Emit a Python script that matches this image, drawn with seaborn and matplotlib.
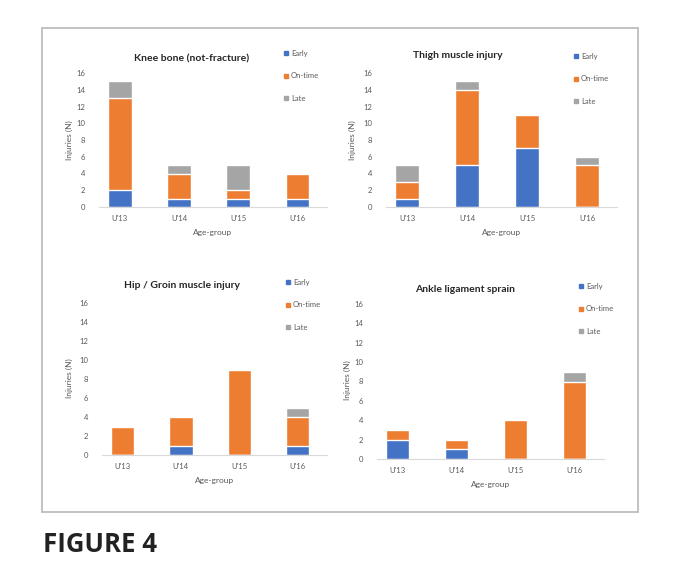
import numpy as np
import pandas as pd
import matplotlib
matplotlib.use('Agg')
import matplotlib.pyplot as plt
from matplotlib.patches import Rectangle
from matplotlib.lines import Line2D
import seaborn as sns

groups = ["U'13", "U'14", "U'15", "U'16"]
timing = ['Early', 'On-time', 'Late']

titles = ['Knee bone (not-fracture)', 'Thigh muscle injury',
          'Hip / Groin muscle injury', 'Ankle ligament sprain']

knee_early = [2, 1, 1, 1]
knee_ontime = [11, 3, 1, 3]
knee_late = [2, 1, 3, 0]

thigh_early = [1, 5, 7, 0]
thigh_ontime = [2, 9, 4, 5]
thigh_late = [2, 1, 0, 1]

hip_early = [0, 1, 0, 1]
hip_ontime = [3, 3, 9, 3]
hip_late = [0, 0, 0, 1]

ankle_early = [2, 1, 0, 0]
ankle_ontime = [1, 1, 4, 8]
ankle_late = [0, 0, 0, 1]

yticks = [0, 2, 4, 6, 8, 10, 12, 14, 16]

colors = {'Early': '#4472C4', 'On-time': '#ED7D31', 'Late': '#A5A5A5'}

W, H = 680, 572
sns.set_style('white')
plt.rcParams['font.family'] = ['Lato', 'DejaVu Sans']

fig = plt.figure(figsize=(W / 100, H / 100), dpi=100)

# panel layout in pixels: left, right, y of 0, y of 16
panels = [
    dict(l=99, r=327, y0=207, y16=73, title=(192, 59), ylab=(69, 140), leg=(284, 50)),
    dict(l=386, r=617, y0=207, y16=73, title=(458, 56), ylab=(352, 140), leg=(574, 53)),
    dict(l=102, r=327, y0=455, y16=303, title=(182, 285), ylab=(69, 378), leg=(286, 279)),
    dict(l=377, r=604, y0=459, y16=304, title=(465, 289), ylab=(347, 380), leg=(579, 283)),
]

data = [
    (knee_early, knee_ontime, knee_late),
    (thigh_early, thigh_ontime, thigh_late),
    (hip_early, hip_ontime, hip_late),
    (ankle_early, ankle_ontime, ankle_late),
]

for p, (early, ontime, late), title in zip(panels, data, titles):
    ax = fig.add_axes([p['l'] / W, 1 - p['y0'] / H, (p['r'] - p['l']) / W, (p['y0'] - p['y16']) / H])
    df = pd.DataFrame({'group': groups, 'Early': early, 'On-time': ontime, 'Late': late})
    df['c1'] = df['Early']
    df['c2'] = df['Early'] + df['On-time']
    df['c3'] = df['c2'] + df['Late']
    # stacked bars by layering cumulative totals
    sns.barplot(data=df, x='group', y='c3', color=colors['Late'], width=0.4, saturation=1, ax=ax)
    sns.barplot(data=df, x='group', y='c2', color=colors['On-time'], width=0.4, saturation=1, ax=ax)
    sns.barplot(data=df, x='group', y='c1', color=colors['Early'], width=0.4, saturation=1, ax=ax)
    ax.set_xlim(-0.35, 3.5)
    ax.set_ylim(0, 16)
    ax.set_yticks(yticks)
    ax.set_xlabel('Age-group', fontsize=6, color='#595959', labelpad=5)
    ax.set_ylabel('')
    ax.tick_params(axis='both', length=0, labelsize=5.5, labelcolor='#595959')
    ax.tick_params(axis='y', pad=10)
    ax.tick_params(axis='x', pad=6)
    for s in ['top', 'right', 'left']:
        ax.spines[s].set_visible(False)
    ax.spines['bottom'].set_color('#d9d9d9')
    ax.spines['bottom'].set_linewidth(0.8)
    ax.set_facecolor('none')

    fig.text(p['title'][0] / W, 1 - p['title'][1] / H, title, ha='center', va='center',
             fontsize=7.5, fontweight='bold', color='#262626')
    fig.text(p['ylab'][0] / W, 1 - p['ylab'][1] / H, 'Injuries (N)', ha='center', va='center',
             rotation=90, fontsize=6, color='#595959')

    handles = [Line2D([], [], marker='s', linestyle='none', markersize=3.5,
                      markerfacecolor=colors[t], markeredgecolor=colors[t]) for t in timing]
    ax.legend(handles, timing, loc='upper left', bbox_to_anchor=(p['leg'][0] / W, 1 - p['leg'][1] / H),
              bbox_transform=fig.transFigure, frameon=False, fontsize=5.5, labelcolor='#595959',
              handlelength=0.6, handletextpad=0.3, labelspacing=2.0, borderpad=0, borderaxespad=0)

fig.patches.append(Rectangle((42 / W, 1 - 512 / H), (638 - 42) / W, (512 - 28) / H,
                             transform=fig.transFigure, fill=False, edgecolor='#bdbdbd', linewidth=1.3))

fig.text(43 / W, 1 - 544 / H, 'FIGURE 4', ha='left', va='center', fontsize=18.5,
         fontweight='bold', color='#222222', family=['Open Sans', 'DejaVu Sans'])

fig.savefig('out.png', dpi=100)
